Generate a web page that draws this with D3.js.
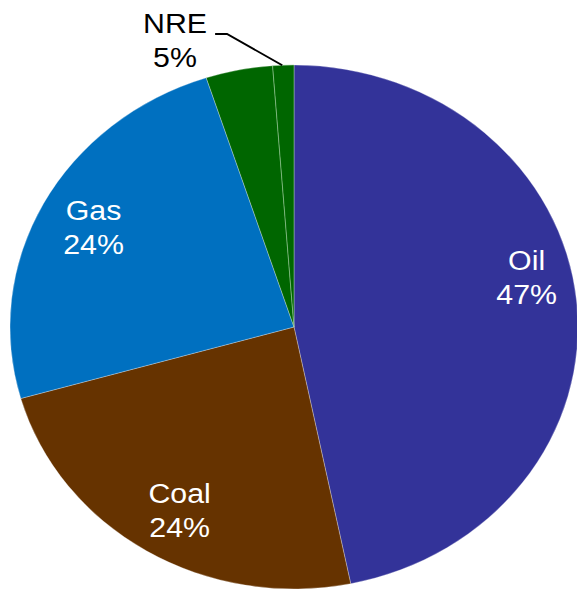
<!DOCTYPE html>
<html>
<head>
<meta charset="utf-8">
<script src="https://cdn.jsdelivr.net/npm/d3@7"></script>
<style>
  body { margin: 0; background: white; }
  svg { display: block; }
  text { font-family: Arial, "Liberation Sans", sans-serif; }
</style>
</head>
<body>
<div id="chart"></div>
<script>
// slices, clockwise from 12 o'clock
const names = ["Oil", "Coal", "Gas", "NRE", "NRE2"];
const values = [46.8, 23.8, 24.4, 3.8, 1.2];
const colors = ["#333399", "#663300", "#0070C0", "#006600", "#006600"];
const labels = ["Oil\n47%", "Coal\n24%", "Gas\n24%", "", ""];
const outsideLabel = ["NRE", "5%"];

const width = 577, height = 592;
const cx = 294, cy = 327;
const radius = 262;
const stretch = 1.084;   // picture is a bit wider than tall
// label placement tweaks (degrees / fraction of radius)
const labelShift = [-7, -1.5, 0, 0, 0];
const labelRadius = [0.84, 0.81, 0.80, 0, 0];

const svg = d3.select("#chart").append("svg")
    .attr("width", width)
    .attr("height", height);

const g = svg.append("g")
    .attr("transform", `translate(${cx},${cy}) scale(${stretch},1)`);

const pie = d3.pie().sort(null).value(d => d);
const arcs = pie(values);

const arc = d3.arc().innerRadius(0).outerRadius(radius);

g.selectAll("path")
    .data(arcs)
    .enter()
    .append("path")
    .attr("d", arc)
    .attr("fill", (d, i) => colors[i])
    .attr("stroke", (d, i) => i == 4 ? "rgba(160,210,160,0.6)" : "rgba(255,255,255,0.35)")
    .attr("stroke-width", 0.8);

// inside labels
arcs.forEach((d, i) => {
    if (!labels[i]) return;
    const lr = radius * labelRadius[i];
    const a = (d.startAngle + d.endAngle) / 2 + labelShift[i] * Math.PI / 180;
    const x = lr * Math.sin(a), y = -lr * Math.cos(a);
    const lines = labels[i].split("\n");
    const t = g.append("text")
        .attr("text-anchor", "middle")
        .attr("fill", "white")
        .style("font-size", "28px");
    lines.forEach((s, j) => {
        t.append("tspan")
            .attr("x", x)
            .attr("y", y - 8 + j * 34)
            .text(s);
    });
});

// NRE label outside with leader line
const last = arcs[arcs.length - 1];
const la = last.startAngle + (last.endAngle - last.startAngle) * 0.45;
const p0 = [radius * Math.sin(la), -radius * Math.cos(la)];
const lx = (175 - cx) / stretch, ly = 33 - cy;

g.append("path")
    .attr("d", d3.line()([[lx + 37, ly + 1], [lx + 48, ly + 1], p0]))
    .attr("fill", "none")
    .attr("stroke", "black")
    .attr("stroke-width", 2 / stretch);

const t2 = g.append("text")
    .attr("text-anchor", "middle")
    .attr("fill", "black")
    .style("font-size", "28px");
outsideLabel.forEach((s, j) => {
    t2.append("tspan")
        .attr("x", lx)
        .attr("y", ly + j * 34)
        .text(s);
});
</script>
</body>
</html>
